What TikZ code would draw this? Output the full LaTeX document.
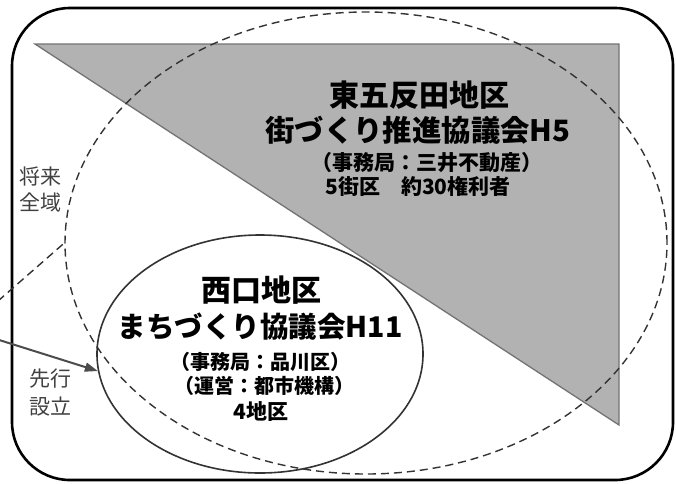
\documentclass[tikz,border=0pt]{standalone}
\usepackage{fontspec}
\setmainfont{Noto Sans CJK JP}
\usetikzlibrary{shapes.geometric,arrows.meta}
\begin{document}
\begin{tikzpicture}[x=1pt,y=-1pt,
  frame/.style={draw=black,line width=2.6pt,rounded corners=58pt},
  tri/.style={fill=black!30,draw=black!55,line width=1.3pt,line join=miter},
  zone/.style={ellipse,draw=black!80,line width=1.6pt,inner sep=0pt},
  future/.style={ellipse,draw=black!80,line width=1.4pt,dash pattern=on 8pt off 5pt,inner sep=0pt},
  leader/.style={draw=black!80,line width=1.4pt,dash pattern=on 8pt off 5pt},
  arrowline/.style={draw=black!70,line width=2pt,-{Triangle[length=13pt,width=9pt]}},
  lbl/.style={inner sep=0pt,anchor=center},
  tA/.style={lbl,font=\fontsize{30}{30}\selectfont\bfseries},
  tA2/.style={lbl,font=\fontsize{29.4}{30}\selectfont\bfseries},
  tB/.style={lbl,font=\fontsize{28.5}{29}\selectfont\bfseries},
  tC/.style={lbl,font=\fontsize{21}{21}\selectfont\bfseries},
  tD/.style={lbl,font=\fontsize{20}{20}\selectfont\bfseries},
  side/.style={lbl,text=black!75,font=\fontsize{21}{21}\selectfont},
]
\useasboundingbox (0,0) rectangle (676,483);
\draw[frame] (12,8) rectangle (673,480);
\draw[tri] (35,44) -- (619,44) -- (619,425) -- cycle;
\node[zone,minimum width=326pt,minimum height=238pt] (west) at (260,354) {};
\node[future,minimum width=602pt,minimum height=462pt] (whole) at (366,243) {};
\coordinate (lead) at (-2,301);
\draw[leader] (lead) -- (whole.west);
\coordinate (src) at (-4,339);
\draw[arrowline] (src) -- (west.186);
% east text
\node[tA] (e1) at (419,95) {東五反田地区};
\node[tA2] (e2) at (418,130) {街づくり推進協議会H5};
\node[tC] (e3) at (427,163) {（事務局：三井不動産）};
\node[tC] (e4) at (418,186) {5街区　約30権利者};
% west text
\node[tA] (w1) at (261,290) {西口地区};
\node[tB] (w2) at (260,327) {まちづくり協議会H11};
\node[tD] (w3) at (260,362) {（事務局：品川区）};
\node[tD] (w4) at (264,386) {（運営：都市機構）};
\node[tC] (w5) at (261,412) {4地区};
% side labels
\node[side] (f1) at (40,176) {将来};
\node[side] (f2) at (40,202) {全域};
\node[side] (s1) at (50,379) {先行};
\node[side] (s2) at (50,407) {設立};
\end{tikzpicture}
\end{document}
